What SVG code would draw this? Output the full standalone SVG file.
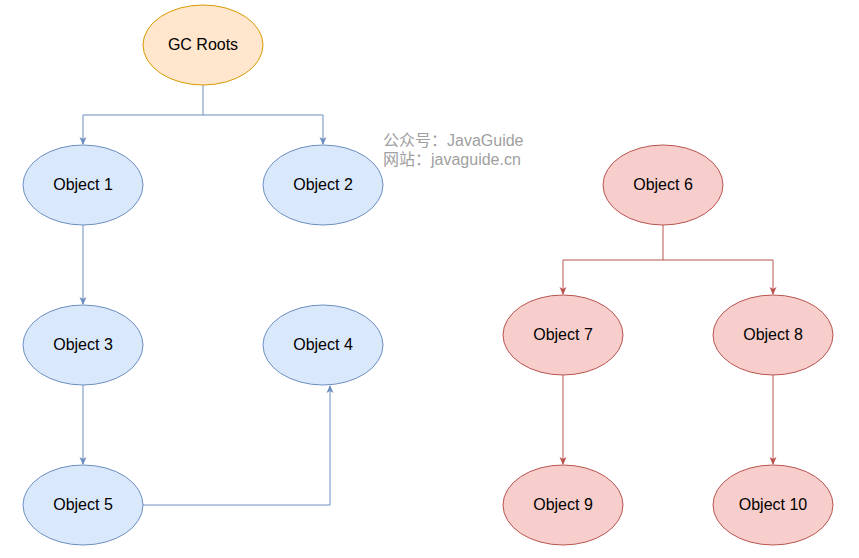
<svg xmlns="http://www.w3.org/2000/svg" width="859" height="558" viewBox="0 0 859 558">
<style>
.b{fill:#dae8fc;stroke:#6c8ebf;stroke-width:1}
.o{fill:#ffe6cc;stroke:#d79b00;stroke-width:1}
.r{fill:#f8cecc;stroke:#b85450;stroke-width:1}
text{font-family:"Liberation Sans",Arial,sans-serif;font-size:16px;fill:#000;text-anchor:middle;dominant-baseline:central}
.cb{fill:none;stroke:#6c8ebf;stroke-width:1}
.cr{fill:none;stroke:#b85450;stroke-width:1}
.wm{font-family:"Liberation Sans","Noto Sans CJK SC",sans-serif;font-size:16px;fill:#a0a0a0;text-anchor:start}
</style>
<defs>
<marker id="ab" markerWidth="8" markerHeight="8" refX="7" refY="4" orient="auto" markerUnits="userSpaceOnUse"><path d="M0,0.5 L8,4 L0,7.5 L2,4 Z" fill="#6c8ebf"/></marker>
<marker id="ar" markerWidth="8" markerHeight="8" refX="7" refY="4" orient="auto" markerUnits="userSpaceOnUse"><path d="M0,0.5 L8,4 L0,7.5 L2,4 Z" fill="#b85450"/></marker>
</defs>
<rect width="859" height="558" fill="#fff"/>
<g id="connectors">
<path class="cb" d="M203,85 V115 H83 V144" marker-end="url(#ab)"/>
<path class="cb" d="M203,115 H323 V144" marker-end="url(#ab)"/>
<path class="cb" d="M83,225 V304" marker-end="url(#ab)"/>
<path class="cb" d="M83,385 V464" marker-end="url(#ab)"/>
<path class="cb" d="M143,505 H330 V386" marker-end="url(#ab)"/>
<path class="cr" d="M663,225 V260 H563 V294" marker-end="url(#ar)"/>
<path class="cr" d="M663,260 H773 V294" marker-end="url(#ar)"/>
<path class="cr" d="M563,375 V464" marker-end="url(#ar)"/>
<path class="cr" d="M773,375 V464" marker-end="url(#ar)"/>
</g>
<g id="gcroots"><ellipse class="o" cx="203" cy="45" rx="60" ry="40"/><text x="203" y="44">GC Roots</text></g>
<g id="obj1"><ellipse class="b" cx="83" cy="185" rx="60" ry="40"/><text x="83" y="184">Object 1</text></g>
<g id="obj2"><ellipse class="b" cx="323" cy="185" rx="60" ry="40"/><text x="323" y="184">Object 2</text></g>
<g id="obj3"><ellipse class="b" cx="83" cy="345" rx="60" ry="40"/><text x="83" y="344">Object 3</text></g>
<g id="obj4"><ellipse class="b" cx="323" cy="345" rx="60" ry="40"/><text x="323" y="344">Object 4</text></g>
<g id="obj5"><ellipse class="b" cx="83" cy="505" rx="60" ry="40"/><text x="83" y="504">Object 5</text></g>
<g id="obj6"><ellipse class="r" cx="663" cy="185" rx="60" ry="40"/><text x="663" y="184">Object 6</text></g>
<g id="obj7"><ellipse class="r" cx="563" cy="335" rx="60" ry="40"/><text x="563" y="334">Object 7</text></g>
<g id="obj8"><ellipse class="r" cx="773" cy="335" rx="60" ry="40"/><text x="773" y="334">Object 8</text></g>
<g id="obj9"><ellipse class="r" cx="563" cy="505" rx="60" ry="40"/><text x="563" y="504">Object 9</text></g>
<g id="obj10"><ellipse class="r" cx="773" cy="505" rx="60" ry="40"/><text x="773" y="504">Object 10</text></g>
<g id="watermark">
<text class="wm" x="383" y="140">公众号：JavaGuide</text>
<text class="wm" x="383" y="159">网站：javaguide.cn</text>
</g>
</svg>
